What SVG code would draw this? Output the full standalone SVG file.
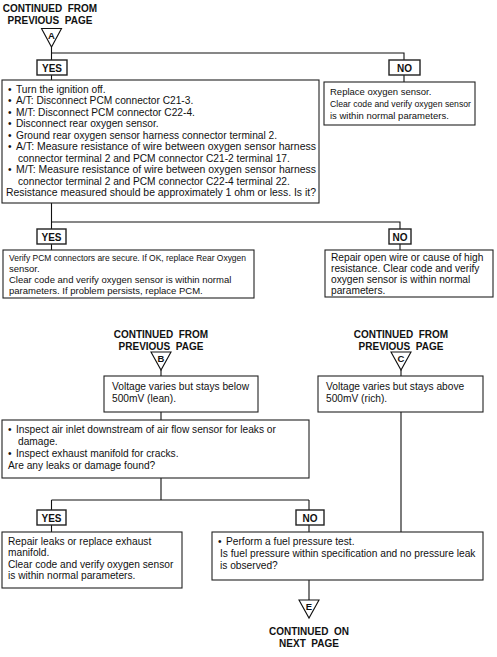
<svg xmlns="http://www.w3.org/2000/svg" width="497" height="657" viewBox="0 0 497 657">
<style>
.bg{fill:#fff}
.box{fill:#fff;stroke:#222;stroke-width:1.1}
.lbl{fill:#fff;stroke:#222;stroke-width:1.4}
.ln{fill:none;stroke:#111;stroke-width:1.1}
.tri{fill:#fff;stroke:#111;stroke-width:1.1}
text{font-family:"Liberation Sans",Arial,sans-serif;fill:#111}
.t{font-size:10.2px}
.s{font-size:9.5px}
.b{font-size:10px;font-weight:bold}
.k{font-size:9.5px;font-weight:bold}
</style>
<rect class="bg" x="0" y="0" width="497" height="657"/>
<g id="connectors">
<path class="ln" d="M51.5,47 V80 M51.5,53 H404 V82"/>
<path class="ln" d="M51.5,203 V250 M51.5,222 H400 V250"/>
<path class="ln" d="M161,370 V376 M161,412 V420 M161,478 V500 M51.5,500 H309 M51.5,500 V532 M309,500 V532"/>
<path class="ln" d="M401,370 V376 M401,412 V532"/>
<path class="ln" d="M309,580 V600"/>
</g>
<g id="startA">
<text class="b" x="50" y="12" text-anchor="middle" xml:space="preserve">CONTINUED  FROM</text>
<text class="b" x="50" y="24" text-anchor="middle" xml:space="preserve">PREVIOUS  PAGE</text>
<polygon class="tri" points="41.5,28.5 61.5,28.5 51.5,47"/>
<text class="k" x="51.5" y="38.5" text-anchor="middle">A</text>
</g>
<g id="yes1"><rect class="lbl" x="37" y="60" width="30" height="15"/><text class="b" x="52" y="71.5" text-anchor="middle">YES</text></g>
<g id="no1"><rect class="lbl" x="389" y="60" width="31" height="15"/><text class="b" x="404.5" y="71.5" text-anchor="middle">NO</text></g>
<g id="check1">
<rect class="box" x="2" y="80" width="317" height="123"/>
<text class="t">
<tspan x="8" y="92.5">•</tspan><tspan x="16" y="92.5">Turn the ignition off.</tspan>
<tspan x="8" y="104">•</tspan><tspan x="16" y="104">A/T: Disconnect PCM connector C21-3.</tspan>
<tspan x="8" y="115.5">•</tspan><tspan x="16" y="115.5">M/T: Disconnect PCM connector C22-4.</tspan>
<tspan x="8" y="127">•</tspan><tspan x="16" y="127">Disconnect rear oxygen sensor.</tspan>
<tspan x="8" y="138.5">•</tspan><tspan x="16" y="138.5">Ground rear oxygen sensor harness connector terminal 2.</tspan>
<tspan x="8" y="150">•</tspan><tspan x="16" y="150" textLength="300" lengthAdjust="spacingAndGlyphs">A/T: Measure resistance of wire between oxygen sensor harness</tspan>
<tspan x="18" y="161.5">connector terminal 2 and PCM connector C21-2 terminal 17.</tspan>
<tspan x="8" y="173">•</tspan><tspan x="16" y="173" textLength="300" lengthAdjust="spacingAndGlyphs">M/T: Measure resistance of wire between oxygen sensor harness</tspan>
<tspan x="18" y="184.5">connector terminal 2 and PCM connector C22-4 terminal 22.</tspan>
<tspan x="6" y="196" textLength="310" lengthAdjust="spacingAndGlyphs">Resistance measured should be approximately 1 ohm or less. Is it?</tspan>
</text>
</g>
<g id="replace1">
<rect class="box" x="324" y="82" width="151" height="43"/>
<text class="s"><tspan x="330" y="94.5">Replace oxygen sensor.</tspan><tspan x="330" y="106.5" textLength="141" lengthAdjust="spacingAndGlyphs">Clear code and verify oxygen sensor</tspan><tspan x="330" y="118.5">is within normal parameters.</tspan></text>
</g>
<g id="yes2"><rect class="lbl" x="37" y="229" width="29" height="15"/><text class="b" x="51.5" y="240.5" text-anchor="middle">YES</text></g>
<g id="no2"><rect class="lbl" x="389" y="229" width="22" height="15"/><text class="b" x="400" y="240.5" text-anchor="middle">NO</text></g>
<g id="verify">
<rect class="box" x="3" y="250" width="251" height="48"/>
<text class="s"><tspan x="9" y="260.5" textLength="237" lengthAdjust="spacingAndGlyphs">Verify PCM connectors are secure. If OK, replace Rear Oxygen</tspan><tspan x="9" y="271.8">sensor.</tspan><tspan x="9" y="283.1">Clear code and verify oxygen sensor is within normal</tspan><tspan x="9" y="294.4">parameters. If problem persists, replace PCM.</tspan></text>
</g>
<g id="repairwire">
<rect class="box" x="325" y="250" width="168" height="47"/>
<text class="t"><tspan x="331" y="260.5">Repair open wire or cause of high</tspan><tspan x="331" y="271.6">resistance. Clear code and verify</tspan><tspan x="331" y="282.7">oxygen sensor is within normal</tspan><tspan x="331" y="293.8">parameters.</tspan></text>
</g>
<g id="startB">
<text class="b" x="161" y="338" text-anchor="middle" xml:space="preserve">CONTINUED  FROM</text>
<text class="b" x="161" y="350" text-anchor="middle" xml:space="preserve">PREVIOUS  PAGE</text>
<polygon class="tri" points="151,352 171,352 161,370"/>
<text class="k" x="161" y="362" text-anchor="middle">B</text>
</g>
<g id="startC">
<text class="b" x="401" y="338" text-anchor="middle" xml:space="preserve">CONTINUED  FROM</text>
<text class="b" x="401" y="350" text-anchor="middle" xml:space="preserve">PREVIOUS  PAGE</text>
<polygon class="tri" points="391,352 411,352 401,370"/>
<text class="k" x="401" y="362" text-anchor="middle">C</text>
</g>
<g id="lean">
<rect class="box" x="104" y="376" width="154" height="36"/>
<text class="t"><tspan x="112" y="389.5">Voltage varies but stays below</tspan><tspan x="112" y="401.5">500mV (lean).</tspan></text>
</g>
<g id="rich">
<rect class="box" x="318" y="376" width="165" height="36"/>
<text class="t"><tspan x="326" y="389.5">Voltage varies but stays above</tspan><tspan x="326" y="401.5">500mV (rich).</tspan></text>
</g>
<g id="inspect">
<rect class="box" x="2" y="420" width="307" height="58"/>
<text class="t">
<tspan x="8" y="432.5">•</tspan><tspan x="16" y="432.5">Inspect air inlet downstream of air flow sensor for leaks or</tspan>
<tspan x="18" y="444.5">damage.</tspan>
<tspan x="8" y="456.5">•</tspan><tspan x="16" y="456.5">Inspect exhaust manifold for cracks.</tspan>
<tspan x="8" y="468.5">Are any leaks or damage found?</tspan>
</text>
</g>
<g id="yes3"><rect class="lbl" x="37" y="510" width="29" height="15"/><text class="b" x="51.5" y="521.5" text-anchor="middle">YES</text></g>
<g id="no3"><rect class="lbl" x="296" y="510" width="28" height="15"/><text class="b" x="310" y="521.5" text-anchor="middle">NO</text></g>
<g id="repairleaks">
<rect class="box" x="2" y="532" width="180" height="56"/>
<text class="t"><tspan x="8" y="544.5">Repair leaks or replace exhaust</tspan><tspan x="8" y="556">manifold.</tspan><tspan x="8" y="567.5">Clear code and verify oxygen sensor</tspan><tspan x="8" y="579">is within normal parameters.</tspan></text>
</g>
<g id="fuel">
<rect class="box" x="212" y="532" width="271" height="48"/>
<text class="t"><tspan x="218" y="544.5">•</tspan><tspan x="226" y="544.5">Perform a fuel pressure test.</tspan><tspan x="220" y="556.5">Is fuel pressure within specification and no pressure leak</tspan><tspan x="220" y="568.5">is observed?</tspan></text>
</g>
<g id="endE">
<polygon class="tri" points="299,600 319,600 309,618"/>
<text class="k" x="309" y="610" text-anchor="middle">E</text>
<text class="b" x="309" y="635" text-anchor="middle" xml:space="preserve">CONTINUED  ON</text>
<text class="b" x="309" y="647" text-anchor="middle" xml:space="preserve">NEXT  PAGE</text>
</g>
</svg>
